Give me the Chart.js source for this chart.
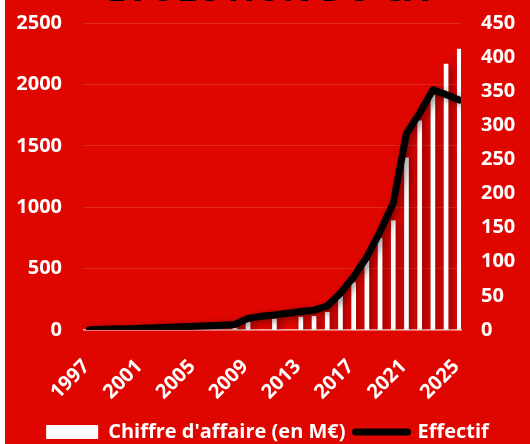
<!DOCTYPE html>
<html><head><meta charset="utf-8">
<script src="https://cdn.jsdelivr.net/npm/chart.js@4"></script>
<style>
html,body{margin:0;padding:0;background:#fff;overflow:hidden;width:530px;height:444px}
#wrap{position:absolute;left:5px;top:-36px;width:525px;height:488px}
</style></head><body>
<div id="wrap"><canvas id="c" width="525" height="488"></canvas></div>
<script>
const chartTitle = "ÉVOLUTION DU CA";
const seriesNames = ["Chiffre d'affaire (en M€)", "Effectif"];
const years = [1997,1998,1999,2000,2001,2002,2003,2004,2005,2006,2007,2008,2009,2010,2011,2012,2013,2014,2015,2016,2017,2018,2019,2020,2021,2022,2023,2024,2025];
const caValues = [null,null,null,null,null,null,null,null,null,null,null,27,62,null,90,null,105,112,144,299,385,570,747,890,1403,1703,1910,2165,2288];
const effectifValues = [0.5,1,1.5,2,2.7,3.3,4,4.7,5.5,6.2,7,8,17,20,22,24.5,27,29,35,54,78,107,144,186,288,318,352,345,337];
const tickYears = [1997,2001,2005,2009,2013,2017,2021,2025];

const RED = '#e00600';
const FONT = {family:'Open Sans', weight:'bold', size:20};

const bgPlugin = { id:'bg', beforeDraw(chart){ const c=chart.ctx; c.save(); c.fillStyle=RED; c.fillRect(0,0,chart.width,chart.height); c.restore(); } };
const shadowPlugin = {
  id:'shadow',
  beforeDatasetDraw(chart){ const c=chart.ctx; c.save(); c.shadowColor='rgba(0,0,0,0.45)'; c.shadowBlur=7; c.shadowOffsetX=3; c.shadowOffsetY=2; },
  afterDatasetDraw(chart){ chart.ctx.restore(); }
};

new Chart(document.getElementById('c'), {
  type:'bar',
  data:{
    datasets:[
      { type:'bar', label:seriesNames[0], data:years.map((y,i)=>({x:y,y:caValues[i]})), backgroundColor:'#ffffff', barThickness:4, yAxisID:'y', order:1 },
      { type:'line', label:seriesNames[1], data:years.map((y,i)=>({x:y,y:effectifValues[i]})), borderColor:'#000000', backgroundColor:'#000000', borderWidth:7, pointRadius:0, tension:0, borderJoinStyle:'round', borderCapStyle:'round', yAxisID:'y1', order:0 }
    ]
  },
  options:{
    responsive:false, animation:false,
    layout:{ padding:{ top:6, left:0, right:0, bottom:0 } },
    plugins:{
      title:{ display:true, text:chartTitle, color:'#000', font:{family:'Open Sans', weight:'bold', size:35}, padding:{top:0,bottom:11} },
      legend:{ position:'bottom', labels:{ color:'#fff', font:FONT, usePointStyle:true, pointStyleWidth:52, boxHeight:14, padding:10,
        generateLabels: () => [
          {text:seriesNames[0], fillStyle:'#fff', strokeStyle:'#fff', lineWidth:0, pointStyle:'rect', fontColor:'#fff', datasetIndex:0},
          {text:seriesNames[1], fillStyle:'#000', strokeStyle:'#000', lineWidth:7, lineCap:'round', pointStyle:'line', fontColor:'#fff', datasetIndex:1}
        ] } },
      tooltip:{ enabled:false }
    },
    scales:{
      x:{ type:'linear', min:1996.58, max:2025.13, offset:false,
        afterBuildTicks: s => { s.ticks = tickYears.map(v=>({value:v})); },
        ticks:{ color:'#fff', font:FONT, maxRotation:45, minRotation:45, autoSkip:false, padding:25, labelOffset:-3, callback:v=>String(v) },
        grid:{ display:false, drawTicks:false },
        border:{ display:true, color:'rgba(255,225,225,0.75)', width:1.5 },
        afterFit: s => { s.height = 82; } },
      y:{ position:'left', min:0, max:2500,
        ticks:{ stepSize:500, color:'#fff', font:FONT, padding:22, callback:v=>String(v) },
        grid:{ color:'rgba(255,255,255,0.13)', drawTicks:false },
        border:{ display:false },
        afterFit: s => { s.width = 79; } },
      y1:{ position:'right', min:0, max:450,
        ticks:{ stepSize:50, color:'#fff', font:FONT, padding:20, callback:v=>String(v) },
        grid:{ drawOnChartArea:false, drawTicks:false },
        border:{ display:false },
        afterFit: s => { s.width = 69; } }
    }
  },
  plugins:[bgPlugin, shadowPlugin]
});
</script>
</body></html>
